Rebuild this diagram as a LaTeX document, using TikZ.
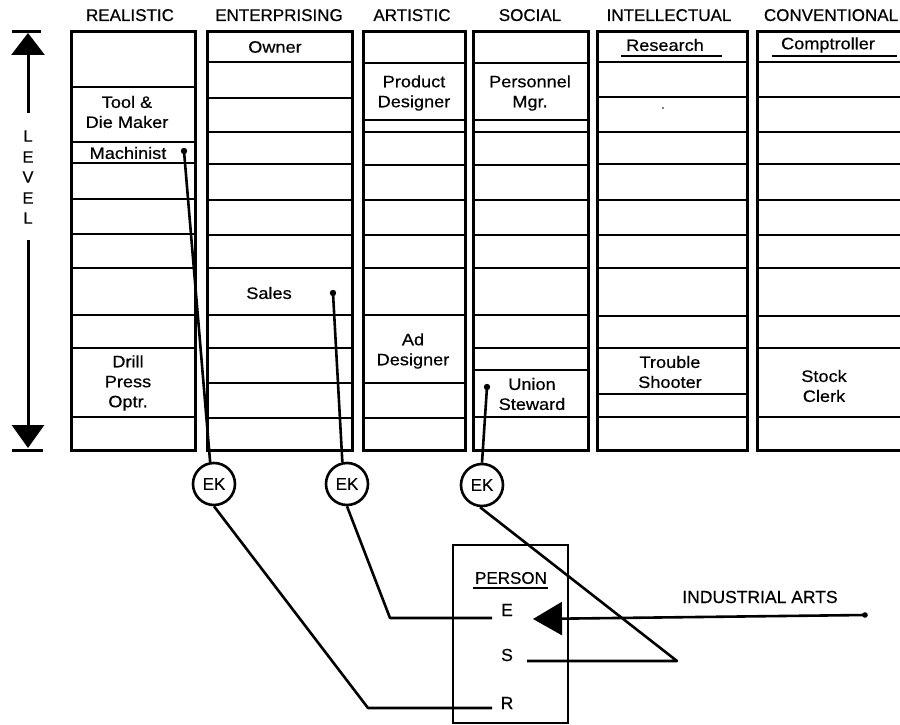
\documentclass[tikz,border=0pt]{standalone}
\usepackage{fontspec}
\setmainfont[FakeBold=0.5]{Liberation Sans}
\newfontfamily\bodyfont[FakeStretch=1.1, FakeBold=0.5]{Liberation Sans}
\usetikzlibrary{arrows.meta}
\begin{document}
\begin{tikzpicture}[x=1pt,y=-1pt,
  hdr/.style={font=\fontsize{17}{20}\selectfont, anchor=base},
  job/.style={font=\bodyfont\fontsize{16.5}{20}\selectfont, align=center, inner sep=0pt},
  colbox/.style={line width=3pt},
  rowline/.style={line width=2.6pt},
  wire/.style={line width=2.6pt},
  ek/.style={circle, draw, line width=2.6pt, minimum size=42pt, inner sep=0pt, font=\fontsize{17}{17}\selectfont},
  lett/.style={font=\fontsize{16.5}{16.5}\selectfont, inner sep=0pt},
  dotmark/.style={fill=black}
]
\useasboundingbox (0,0) rectangle (900,725);

% ---------- headers ----------
\node[hdr] (hR) at (130,21) {REALISTIC};
\node[hdr] (hE) at (279,21) {ENTERPRISING};
\node[hdr] (hA) at (412,21) {ARTISTIC};
\node[hdr] (hS) at (530,21) {SOCIAL};
\node[hdr] (hI) at (669,21) {INTELLECTUAL};
\node[hdr] (hC) at (831,21) {CONVENTIONAL};

% ---------- columns ----------
\draw[colbox] (71,32) rectangle (195,450);
\foreach \y in {87,142,163,199,234,268,315,348,417}
  \draw[rowline] (71,\y) -- (195,\y);
\draw[colbox] (207,32) rectangle (352,450);
\foreach \y in {62,98,132,164,200,235,268,315,348,383,418}
  \draw[rowline] (207,\y) -- (352,\y);
\draw[colbox] (363,32) rectangle (465,450);
\foreach \y in {63,120,132,165,200,235,268,315,383,418}
  \draw[rowline] (363,\y) -- (465,\y);
\draw[colbox] (473,32) rectangle (588,450);
\foreach \y in {63,120,132,165,200,235,268,315,348,370,417}
  \draw[rowline] (473,\y) -- (588,\y);
\draw[colbox] (597,32) rectangle (747,450);
\foreach \y in {62,97,132,164,200,235,268,316,348,394,417}
  \draw[rowline] (597,\y) -- (747,\y);
\draw[colbox] (757,32) rectangle (904,450);
\foreach \y in {62,97,132,164,200,235,268,316,348,417}
  \draw[rowline] (757,\y) -- (904,\y);

% ---------- job labels ----------
\node[job] (owner) at (275,47) {Owner};
\node[job] (tool) at (127,112) {Tool \&\\Die Maker};
\node[job] (mach) at (128,153) {Machinist};
\node[job] (sales) at (269,293) {Sales};
\node[job] (drill) at (128,383) {Drill\\Press\\Optr.};
\node[job] (prod) at (414,93) {Product\\Designer};
\node[job] (pers) at (530,93) {Personnel\\Mgr.};
\node[job] (ad) at (413,351) {Ad\\Designer};
\node[job] (union) at (532,394) {Union\\Steward};
\node[job] (res) at (665,45) {Research};
\node[job] (comp) at (828,45) {Comptroller};
\node[job] (trouble) at (670,372) {Trouble\\Shooter};
\node[job] (stock) at (824,386) {Stock\\Clerk};
\draw[rowline] (621,56) -- (722,56);
\draw[rowline] (772,56) -- (897,56);
\fill (663,108) circle (0.9);

% ---------- LEVEL arrow ----------
\draw[line width=3pt] (12,32) -- (41,32);
\draw[line width=3pt] (12,450) -- (43,450);
\coordinate (lvtop) at (28,33);
\coordinate (lvtopst) at (28,113);
\coordinate (lvbot) at (28,448);
\coordinate (lvbotst) at (28,240);
\draw[line width=3pt, -{Triangle[length=22pt,width=33pt]}] (lvtopst) -- (lvtop);
\draw[line width=3pt, -{Triangle[length=23pt,width=32pt]}] (lvbotst) -- (lvbot);
\node[lett] (l1) at (28,136) {L};
\node[lett] (l2) at (28,157) {E};
\node[lett] (l3) at (28,177) {V};
\node[lett] (l4) at (28,198) {E};
\node[lett] (l5) at (28,218) {L};

% ---------- EK circles ----------
\node[ek] (ek1) at (214,484) {EK};
\node[ek] (ek2) at (347,484) {EK};
\node[ek] (ek3) at (482,485) {EK};

\coordinate (dmach) at (184,151);
\coordinate (dsales) at (333,293);
\coordinate (dunion) at (487,387);
\fill[dotmark] (dmach) circle (3.2);
\fill[dotmark] (dsales) circle (3.2);
\fill[dotmark] (dunion) circle (3.2);
\draw[wire] (dmach) -- (ek1.100);
\draw[wire] (dsales) -- (ek2.102);
\draw[wire] (dunion) -- (ek3.north);

% ---------- PERSON box ----------
\draw[line width=2.8pt] (453,545) rectangle (568,723);
\node[font=\fontsize{17}{17}\selectfont, inner sep=0pt] (person) at (511,578) {PERSON};
\draw[line width=2pt] (473,588) -- (548,588);
\node[lett, font=\fontsize{17.5}{17.5}\selectfont] (E) at (507,610) {E};
\node[lett, font=\fontsize{17.5}{17.5}\selectfont] (S) at (507,655) {S};
\node[lett, font=\fontsize{17.5}{17.5}\selectfont] (R) at (507,703) {R};

\coordinate (bendR) at (368,708);
\coordinate (endR) at (492,708);
\coordinate (bendE) at (390,618);
\coordinate (endE) at (492,618);
\coordinate (bendS) at (677,661);
\coordinate (endS) at (527,661);
\draw[wire, line join=round] (ek1.south) -- (bendR) -- (endR);
\draw[wire, line join=round] (ek2.south) -- (bendE) -- (endE);
\draw[wire, line join=round] (ek3.265) -- (bendS) -- (endS);

% ---------- INDUSTRIAL ARTS ----------
\node[font=\fontsize{17.5}{17.5}\selectfont, inner sep=0pt] (ia) at (760,597) {INDUSTRIAL ARTS};
\coordinate (iaend) at (865,615);
\coordinate (iatip) at (533,619);
\draw[wire, -{Triangle[length=29pt,width=33pt]}] (iaend) -- (iatip);
\fill (iaend) circle (2.8);
\end{tikzpicture}
\end{document}
